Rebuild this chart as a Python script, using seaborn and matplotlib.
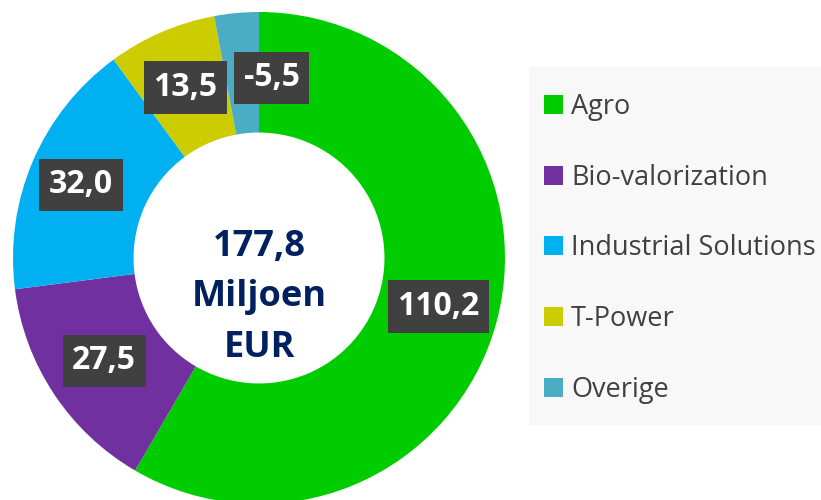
import matplotlib
matplotlib.use("Agg")
import numpy as np
import matplotlib.pyplot as plt
import seaborn as sns
from matplotlib.patches import Rectangle

# === Dati ===
segmenti = ["Agro", "Bio-valorization", "Industrial Solutions", "T-Power", "Overige"]
valori = [110.2, 27.5, 32.0, 13.5, -5.5]
totale_label = "177,8\nMiljoen\nEUR"
colori = ["#00CC00", "#7030A0", "#00B0F0", "#CCCC00", "#4BACC6"]

sns.set_theme(style="white")
plt.rcParams["font.family"] = ["Open Sans", "DejaVu Sans"]

fig = plt.figure(figsize=(8.21, 5), dpi=100)

# sfondo legenda
fig.patches.append(Rectangle((529 / 821, 1 - 425 / 500), 292 / 821, 358 / 500,
                             transform=fig.transFigure, facecolor="#F8F8F8",
                             edgecolor="none", zorder=0))

ax = fig.add_axes([(259 - 246) / 821, (242 - 246) / 500, 492 / 821, 492 / 500])
ax.set_zorder(1)

# le fette usano il valore assoluto (Overige e' negativo)
dimensioni = [abs(v) for v in valori]
wedges, _ = ax.pie(dimensioni, colors=sns.color_palette(colori), startangle=90,
                   counterclock=False, radius=1,
                   wedgeprops=dict(width=0.49, edgecolor="none"))
ax.set_xlim(-1, 1)
ax.set_ylim(-1, 1)
ax.set_aspect("equal")
ax.axis("off")

# etichette dei valori
spostamenti = [(0, 0), (0, 0), (-0.03, 0), (0, 0), (0.12, -0.02)]
for w, v, (dx, dy) in zip(wedges, valori, spostamenti):
    ang = np.deg2rad((w.theta1 + w.theta2) / 2)
    r = 0.755
    x, y = r * np.cos(ang) + dx, r * np.sin(ang) + dy
    ax.text(x, y, f"{v:.1f}".replace(".", ","), ha="center", va="center",
            fontsize=23, fontweight="bold", color="white",
            bbox=dict(boxstyle="square,pad=0.3", facecolor="#404040", edgecolor="none"))

ax.text(0, -0.16, totale_label, ha="center", va="center", fontsize=26,
        fontweight="bold", color="#002060", linespacing=1.55)

leg = fig.legend(wedges, segmenti, loc="upper left",
                 bbox_to_anchor=(533 / 821, 1 - 82 / 500), frameon=False,
                 fontsize=19.5, labelspacing=1.58, handlelength=0.7,
                 handleheight=0.7, handletextpad=0.3, borderaxespad=0)
for t in leg.get_texts():
    t.set_color("#404040")

fig.savefig("out.png", dpi=100)
